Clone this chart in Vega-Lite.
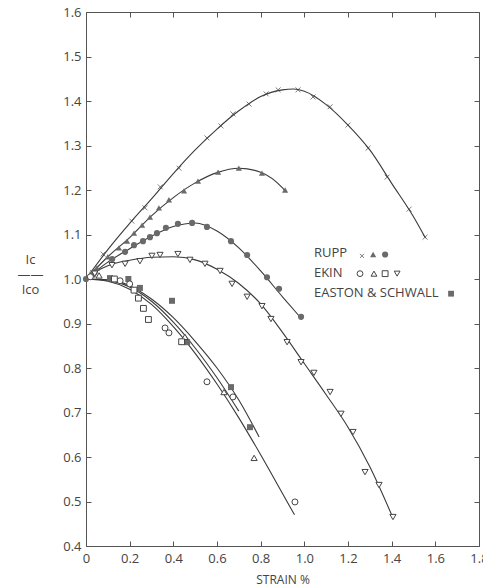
{
  "$schema": "https://vega.github.io/schema/vega-lite/v6.json",
  "width": 393,
  "height": 534,
  "autosize": "none",
  "padding": {"left": 86, "top": 12, "right": 4, "bottom": 42},
  "background": "white",
  "config": {
    "view": {"stroke": "#555", "strokeWidth": 1},
    "axis": {"grid": false, "domainColor": "#555", "tickColor": "#555", "labelColor": "#444", "labelFont": "Open Sans", "labelFontSize": 13, "tickSize": -5, "labelFlush": false, "labelOverlap": false, "labelBound": false, "titleFont": "Open Sans", "titleColor": "#444", "titleFontWeight": "normal"}
  },
  "datasets": {
    "pts": [
      {"series": "RUPP_x", "s": 0.03, "v": 1.015}, {"series": "RUPP_x", "s": 0.078, "v": 1.056}, {"series": "RUPP_x", "s": 0.21, "v": 1.13}, {"series": "RUPP_x", "s": 0.27, "v": 1.16}, {"series": "RUPP_x", "s": 0.34, "v": 1.207}, {"series": "RUPP_x", "s": 0.426, "v": 1.249}, {"series": "RUPP_x", "s": 0.554, "v": 1.317}, {"series": "RUPP_x", "s": 0.618, "v": 1.344}, {"series": "RUPP_x", "s": 0.673, "v": 1.371}, {"series": "RUPP_x", "s": 0.747, "v": 1.393}, {"series": "RUPP_x", "s": 0.825, "v": 1.416}, {"series": "RUPP_x", "s": 0.88, "v": 1.425}, {"series": "RUPP_x", "s": 0.971, "v": 1.425}, {"series": "RUPP_x", "s": 1.04, "v": 1.409}, {"series": "RUPP_x", "s": 1.118, "v": 1.387}, {"series": "RUPP_x", "s": 1.2, "v": 1.346}, {"series": "RUPP_x", "s": 1.292, "v": 1.294}, {"series": "RUPP_x", "s": 1.379, "v": 1.229}, {"series": "RUPP_x", "s": 1.48, "v": 1.157}, {"series": "RUPP_x", "s": 1.553, "v": 1.094},
      {"series": "RUPP_tri", "s": 0.05, "v": 1.025}, {"series": "RUPP_tri", "s": 0.1, "v": 1.05}, {"series": "RUPP_tri", "s": 0.151, "v": 1.07}, {"series": "RUPP_tri", "s": 0.188, "v": 1.085}, {"series": "RUPP_tri", "s": 0.22, "v": 1.103}, {"series": "RUPP_tri", "s": 0.257, "v": 1.121}, {"series": "RUPP_tri", "s": 0.293, "v": 1.139}, {"series": "RUPP_tri", "s": 0.334, "v": 1.16}, {"series": "RUPP_tri", "s": 0.38, "v": 1.178}, {"series": "RUPP_tri", "s": 0.449, "v": 1.198}, {"series": "RUPP_tri", "s": 0.513, "v": 1.22}, {"series": "RUPP_tri", "s": 0.605, "v": 1.24}, {"series": "RUPP_tri", "s": 0.7, "v": 1.249}, {"series": "RUPP_tri", "s": 0.806, "v": 1.238}, {"series": "RUPP_tri", "s": 0.912, "v": 1.2},
      {"series": "RUPP_circ", "s": 0.0, "v": 1.0}, {"series": "RUPP_circ", "s": 0.04, "v": 1.015}, {"series": "RUPP_circ", "s": 0.12, "v": 1.045}, {"series": "RUPP_circ", "s": 0.179, "v": 1.061}, {"series": "RUPP_circ", "s": 0.22, "v": 1.076}, {"series": "RUPP_circ", "s": 0.261, "v": 1.085}, {"series": "RUPP_circ", "s": 0.293, "v": 1.094}, {"series": "RUPP_circ", "s": 0.325, "v": 1.103}, {"series": "RUPP_circ", "s": 0.366, "v": 1.115}, {"series": "RUPP_circ", "s": 0.421, "v": 1.124}, {"series": "RUPP_circ", "s": 0.486, "v": 1.126}, {"series": "RUPP_circ", "s": 0.554, "v": 1.117}, {"series": "RUPP_circ", "s": 0.664, "v": 1.085}, {"series": "RUPP_circ", "s": 0.738, "v": 1.054}, {"series": "RUPP_circ", "s": 0.829, "v": 1.004}, {"series": "RUPP_circ", "s": 0.884, "v": 0.978}, {"series": "RUPP_circ", "s": 0.985, "v": 0.915},
      {"series": "EKIN_down", "s": 0.04, "v": 1.012}, {"series": "EKIN_down", "s": 0.119, "v": 1.031}, {"series": "EKIN_down", "s": 0.179, "v": 1.034}, {"series": "EKIN_down", "s": 0.247, "v": 1.04}, {"series": "EKIN_down", "s": 0.302, "v": 1.052}, {"series": "EKIN_down", "s": 0.339, "v": 1.054}, {"series": "EKIN_down", "s": 0.421, "v": 1.056}, {"series": "EKIN_down", "s": 0.476, "v": 1.043}, {"series": "EKIN_down", "s": 0.545, "v": 1.034}, {"series": "EKIN_down", "s": 0.614, "v": 1.018}, {"series": "EKIN_down", "s": 0.669, "v": 0.989}, {"series": "EKIN_down", "s": 0.738, "v": 0.96}, {"series": "EKIN_down", "s": 0.806, "v": 0.939}, {"series": "EKIN_down", "s": 0.847, "v": 0.91}, {"series": "EKIN_down", "s": 0.921, "v": 0.858}, {"series": "EKIN_down", "s": 0.985, "v": 0.813}, {"series": "EKIN_down", "s": 1.044, "v": 0.789}, {"series": "EKIN_down", "s": 1.118, "v": 0.746}, {"series": "EKIN_down", "s": 1.168, "v": 0.697}, {"series": "EKIN_down", "s": 1.223, "v": 0.656}, {"series": "EKIN_down", "s": 1.278, "v": 0.566}, {"series": "EKIN_down", "s": 1.342, "v": 0.537}, {"series": "EKIN_down", "s": 1.406, "v": 0.465},
      {"series": "EKIN_circ", "s": 0.02, "v": 1.005}, {"series": "EKIN_circ", "s": 0.156, "v": 0.996}, {"series": "EKIN_circ", "s": 0.2, "v": 0.989}, {"series": "EKIN_circ", "s": 0.362, "v": 0.89}, {"series": "EKIN_circ", "s": 0.38, "v": 0.879}, {"series": "EKIN_circ", "s": 0.554, "v": 0.769}, {"series": "EKIN_circ", "s": 0.673, "v": 0.735}, {"series": "EKIN_circ", "s": 0.957, "v": 0.499},
      {"series": "EKIN_tri", "s": 0.06, "v": 1.008}, {"series": "EKIN_tri", "s": 0.453, "v": 0.87}, {"series": "EKIN_tri", "s": 0.632, "v": 0.746}, {"series": "EKIN_tri", "s": 0.77, "v": 0.598},
      {"series": "EKIN_sq", "s": 0.13, "v": 1.0}, {"series": "EKIN_sq", "s": 0.22, "v": 0.975}, {"series": "EKIN_sq", "s": 0.24, "v": 0.957}, {"series": "EKIN_sq", "s": 0.263, "v": 0.934}, {"series": "EKIN_sq", "s": 0.286, "v": 0.909}, {"series": "EKIN_sq", "s": 0.438, "v": 0.859},
      {"series": "ES_sq", "s": 0.03, "v": 1.01}, {"series": "ES_sq", "s": 0.11, "v": 1.002}, {"series": "ES_sq", "s": 0.194, "v": 1.0}, {"series": "ES_sq", "s": 0.247, "v": 0.98}, {"series": "ES_sq", "s": 0.394, "v": 0.951}, {"series": "ES_sq", "s": 0.463, "v": 0.858}, {"series": "ES_sq", "s": 0.664, "v": 0.757}, {"series": "ES_sq", "s": 0.751, "v": 0.667}
    ],
    "curves": [
      {"c": "x", "s": 0, "v": 1.0}, {"c": "x", "s": 0.1, "v": 1.066}, {"c": "x", "s": 0.2, "v": 1.125}, {"c": "x", "s": 0.3, "v": 1.18}, {"c": "x", "s": 0.4, "v": 1.237}, {"c": "x", "s": 0.5, "v": 1.29}, {"c": "x", "s": 0.6, "v": 1.337}, {"c": "x", "s": 0.7, "v": 1.378}, {"c": "x", "s": 0.8, "v": 1.41}, {"c": "x", "s": 0.9, "v": 1.425}, {"c": "x", "s": 0.95, "v": 1.427}, {"c": "x", "s": 1.0, "v": 1.422}, {"c": "x", "s": 1.1, "v": 1.392}, {"c": "x", "s": 1.2, "v": 1.346}, {"c": "x", "s": 1.3, "v": 1.29}, {"c": "x", "s": 1.4, "v": 1.215}, {"c": "x", "s": 1.5, "v": 1.14}, {"c": "x", "s": 1.555, "v": 1.092},
      {"c": "tri", "s": 0, "v": 1.0}, {"c": "tri", "s": 0.1, "v": 1.05}, {"c": "tri", "s": 0.2, "v": 1.093}, {"c": "tri", "s": 0.3, "v": 1.142}, {"c": "tri", "s": 0.4, "v": 1.183}, {"c": "tri", "s": 0.5, "v": 1.216}, {"c": "tri", "s": 0.6, "v": 1.239}, {"c": "tri", "s": 0.7, "v": 1.249}, {"c": "tri", "s": 0.8, "v": 1.24}, {"c": "tri", "s": 0.9, "v": 1.205}, {"c": "tri", "s": 0.915, "v": 1.197},
      {"c": "circ", "s": 0, "v": 1.0}, {"c": "circ", "s": 0.1, "v": 1.038}, {"c": "circ", "s": 0.2, "v": 1.068}, {"c": "circ", "s": 0.3, "v": 1.096}, {"c": "circ", "s": 0.4, "v": 1.118}, {"c": "circ", "s": 0.5, "v": 1.126}, {"c": "circ", "s": 0.6, "v": 1.108}, {"c": "circ", "s": 0.7, "v": 1.07}, {"c": "circ", "s": 0.8, "v": 1.018}, {"c": "circ", "s": 0.9, "v": 0.96}, {"c": "circ", "s": 0.985, "v": 0.912},
      {"c": "down", "s": 0, "v": 1.0}, {"c": "down", "s": 0.05, "v": 1.018}, {"c": "down", "s": 0.1, "v": 1.03}, {"c": "down", "s": 0.2, "v": 1.042}, {"c": "down", "s": 0.3, "v": 1.049}, {"c": "down", "s": 0.4, "v": 1.05}, {"c": "down", "s": 0.5, "v": 1.043}, {"c": "down", "s": 0.6, "v": 1.022}, {"c": "down", "s": 0.7, "v": 0.99}, {"c": "down", "s": 0.8, "v": 0.944}, {"c": "down", "s": 0.9, "v": 0.88}, {"c": "down", "s": 1.0, "v": 0.81}, {"c": "down", "s": 1.1, "v": 0.74}, {"c": "down", "s": 1.2, "v": 0.667}, {"c": "down", "s": 1.3, "v": 0.578}, {"c": "down", "s": 1.4, "v": 0.47},
      {"c": "es", "s": 0, "v": 1.0}, {"c": "es", "s": 0.1, "v": 0.998}, {"c": "es", "s": 0.2, "v": 0.985}, {"c": "es", "s": 0.3, "v": 0.955}, {"c": "es", "s": 0.4, "v": 0.913}, {"c": "es", "s": 0.5, "v": 0.86}, {"c": "es", "s": 0.6, "v": 0.8}, {"c": "es", "s": 0.7, "v": 0.728}, {"c": "es", "s": 0.793, "v": 0.645},
      {"c": "ek1", "s": 0, "v": 1.0}, {"c": "ek1", "s": 0.1, "v": 0.995}, {"c": "ek1", "s": 0.2, "v": 0.977}, {"c": "ek1", "s": 0.3, "v": 0.943}, {"c": "ek1", "s": 0.4, "v": 0.893}, {"c": "ek1", "s": 0.5, "v": 0.833}, {"c": "ek1", "s": 0.6, "v": 0.764}, {"c": "ek1", "s": 0.7, "v": 0.688}, {"c": "ek1", "s": 0.8, "v": 0.605}, {"c": "ek1", "s": 0.9, "v": 0.518}, {"c": "ek1", "s": 0.955, "v": 0.47},
      {"c": "ek2", "s": 0, "v": 1.0}, {"c": "ek2", "s": 0.1, "v": 0.997}, {"c": "ek2", "s": 0.2, "v": 0.982}, {"c": "ek2", "s": 0.3, "v": 0.95}, {"c": "ek2", "s": 0.4, "v": 0.903}, {"c": "ek2", "s": 0.5, "v": 0.845}, {"c": "ek2", "s": 0.6, "v": 0.778}, {"c": "ek2", "s": 0.7, "v": 0.703}
    ]
  },
  "layer": [
    {
      "layer": [
        {
          "data": {"name": "curves"},
          "mark": {"type": "line", "interpolate": "monotone", "color": "#3a3a3a", "strokeWidth": 1.1},
          "encoding": {
            "x": {"field": "s", "type": "quantitative", "scale": {"domain": [0, 1.8], "nice": false, "zero": false},
              "axis": {"values": [0, 0.2, 0.4, 0.6, 0.8, 1.0, 1.2, 1.4, 1.6, 1.8], "labelExpr": "datum.value == 0 ? '0' : format(datum.value, '.1f')", "title": "STRAIN %", "titleFontSize": 12, "titlePadding": 9, "labelPadding": 11, "domain": false}},
            "y": {"field": "v", "type": "quantitative", "scale": {"domain": [0.4, 1.6], "nice": false, "zero": false},
              "axis": {"values": [0.4, 0.5, 0.6, 0.7, 0.8, 0.9, 1.0, 1.1, 1.2, 1.3, 1.4, 1.5, 1.6], "format": ".1f", "labelPadding": 10, "domain": false,
                "title": ["Ic", "——", "Ico"], "titleAngle": 0, "titleFontSize": 13, "titleLineHeight": 15, "titleAlign": "center", "titleBaseline": "middle", "titleX": -56, "titleY": 247}},
            "detail": {"field": "c"}
          }
        },
        {
          "data": {"name": "pts"},
          "transform": [{"filter": "datum.series == 'RUPP_x'"}],
          "mark": {"type": "point", "shape": "M-1,-1L1,1M-1,1L1,-1", "filled": false, "stroke": "#444", "strokeWidth": 1, "size": 24},
          "encoding": {"x": {"field": "s", "type": "quantitative"}, "y": {"field": "v", "type": "quantitative"}}
        },
        {
          "data": {"name": "pts"},
          "transform": [{"filter": "datum.series == 'RUPP_tri'"}],
          "mark": {"type": "point", "shape": "triangle-up", "filled": true, "fill": "#6a6a6a", "opacity": 1, "size": 38},
          "encoding": {"x": {"field": "s", "type": "quantitative"}, "y": {"field": "v", "type": "quantitative"}}
        },
        {
          "data": {"name": "pts"},
          "transform": [{"filter": "datum.series == 'RUPP_circ'"}],
          "mark": {"type": "point", "shape": "circle", "filled": true, "fill": "#6a6a6a", "opacity": 1, "size": 38},
          "encoding": {"x": {"field": "s", "type": "quantitative"}, "y": {"field": "v", "type": "quantitative"}}
        },
        {
          "data": {"name": "pts"},
          "transform": [{"filter": "datum.series == 'ES_sq'"}],
          "mark": {"type": "point", "shape": "square", "filled": true, "fill": "#6a6a6a", "opacity": 1, "size": 36},
          "encoding": {"x": {"field": "s", "type": "quantitative"}, "y": {"field": "v", "type": "quantitative"}}
        },
        {
          "data": {"name": "pts"},
          "transform": [{"filter": "datum.series == 'EKIN_circ'"}],
          "mark": {"type": "point", "shape": "circle", "filled": true, "fill": "white", "stroke": "#444", "strokeWidth": 1, "opacity": 1, "size": 36},
          "encoding": {"x": {"field": "s", "type": "quantitative"}, "y": {"field": "v", "type": "quantitative"}}
        },
        {
          "data": {"name": "pts"},
          "transform": [{"filter": "datum.series == 'EKIN_tri'"}],
          "mark": {"type": "point", "shape": "triangle-up", "filled": true, "fill": "white", "stroke": "#444", "strokeWidth": 1, "opacity": 1, "size": 38},
          "encoding": {"x": {"field": "s", "type": "quantitative"}, "y": {"field": "v", "type": "quantitative"}}
        },
        {
          "data": {"name": "pts"},
          "transform": [{"filter": "datum.series == 'EKIN_sq'"}],
          "mark": {"type": "point", "shape": "square", "filled": true, "fill": "white", "stroke": "#444", "strokeWidth": 1, "opacity": 1, "size": 34},
          "encoding": {"x": {"field": "s", "type": "quantitative"}, "y": {"field": "v", "type": "quantitative"}}
        },
        {
          "data": {"name": "pts"},
          "transform": [{"filter": "datum.series == 'EKIN_down'"}],
          "mark": {"type": "point", "shape": "triangle-down", "filled": true, "fill": "white", "stroke": "#444", "strokeWidth": 1, "opacity": 1, "size": 38},
          "encoding": {"x": {"field": "s", "type": "quantitative"}, "y": {"field": "v", "type": "quantitative"}}
        },
        {
          "data": {"values": [{}]},
          "mark": {"type": "text", "align": "left", "baseline": "middle", "font": "Open Sans", "fontSize": 13, "color": "#444"},
          "encoding": {"x": {"datum": 1.044}, "y": {"datum": 1.058}, "text": {"value": "RUPP"}}
        },
        {
          "data": {"values": [{}]},
          "mark": {"type": "text", "align": "left", "baseline": "middle", "font": "Open Sans", "fontSize": 13, "color": "#444"},
          "encoding": {"x": {"datum": 1.044}, "y": {"datum": 1.013}, "text": {"value": "EKIN"}}
        },
        {
          "data": {"values": [{}]},
          "mark": {"type": "text", "align": "left", "baseline": "middle", "font": "Open Sans", "fontSize": 13, "color": "#444"},
          "encoding": {"x": {"datum": 1.044}, "y": {"datum": 0.969}, "text": {"value": "EASTON & SCHWALL"}}
        },
        {
          "data": {"values": [{}]},
          "mark": {"type": "point", "shape": "M-1,-1L1,1M-1,1L1,-1", "filled": false, "stroke": "#444", "strokeWidth": 1, "size": 16},
          "encoding": {"x": {"datum": 1.264}, "y": {"datum": 1.052}}
        },
        {
          "data": {"values": [{}]},
          "mark": {"type": "point", "shape": "triangle-up", "filled": true, "fill": "#6a6a6a", "opacity": 1, "size": 38},
          "encoding": {"x": {"datum": 1.315}, "y": {"datum": 1.055}}
        },
        {
          "data": {"values": [{}]},
          "mark": {"type": "point", "shape": "circle", "filled": true, "fill": "#6a6a6a", "opacity": 1, "size": 38},
          "encoding": {"x": {"datum": 1.37}, "y": {"datum": 1.055}}
        },
        {
          "data": {"values": [{}]},
          "mark": {"type": "point", "shape": "circle", "filled": true, "fill": "white", "stroke": "#444", "strokeWidth": 1, "opacity": 1, "size": 34},
          "encoding": {"x": {"datum": 1.255}, "y": {"datum": 1.012}}
        },
        {
          "data": {"values": [{}]},
          "mark": {"type": "point", "shape": "triangle-up", "filled": true, "fill": "white", "stroke": "#444", "strokeWidth": 1, "opacity": 1, "size": 34},
          "encoding": {"x": {"datum": 1.319}, "y": {"datum": 1.012}}
        },
        {
          "data": {"values": [{}]},
          "mark": {"type": "point", "shape": "square", "filled": true, "fill": "white", "stroke": "#444", "strokeWidth": 1, "opacity": 1, "size": 34},
          "encoding": {"x": {"datum": 1.37}, "y": {"datum": 1.012}}
        },
        {
          "data": {"values": [{}]},
          "mark": {"type": "point", "shape": "triangle-down", "filled": true, "fill": "white", "stroke": "#444", "strokeWidth": 1, "opacity": 1, "size": 34},
          "encoding": {"x": {"datum": 1.425}, "y": {"datum": 1.012}}
        },
        {
          "data": {"values": [{}]},
          "mark": {"type": "point", "shape": "square", "filled": true, "fill": "#6a6a6a", "opacity": 1, "size": 34},
          "encoding": {"x": {"datum": 1.672}, "y": {"datum": 0.967}}
        }
      ]
    },
    {
      "data": {"name": "curves"},
      "mark": {"type": "point", "opacity": 0},
      "encoding": {
        "x": {"field": "s", "type": "quantitative", "axis": {"orient": "top", "values": [0, 0.2, 0.4, 0.6, 0.8, 1.0, 1.2, 1.4, 1.6, 1.8], "labels": false, "title": null, "domain": false}},
        "y": {"field": "v", "type": "quantitative", "axis": {"orient": "right", "values": [0.4, 0.5, 0.6, 0.7, 0.8, 0.9, 1.0, 1.1, 1.2, 1.3, 1.4, 1.5, 1.6], "labels": false, "title": null, "domain": false}}
      }
    }
  ],
  "resolve": {"axis": {"x": "independent", "y": "independent"}}
}
